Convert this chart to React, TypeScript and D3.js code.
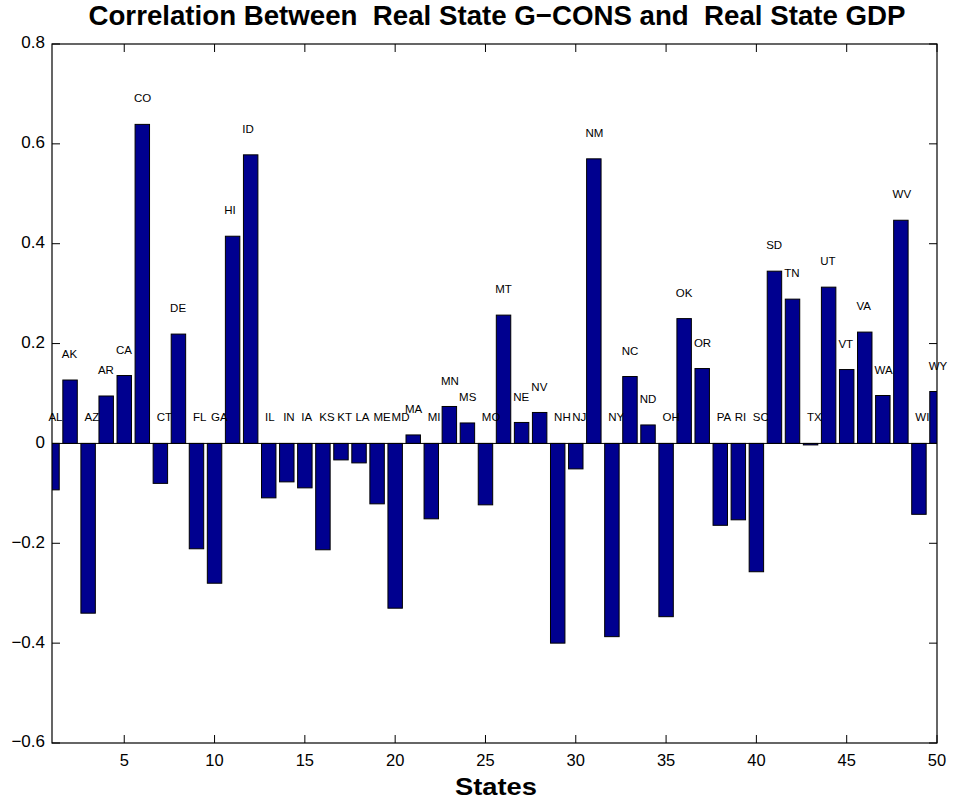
import React from "react";
import * as d3 from "d3";

const states = ["AL","AK","AZ","AR","CA","CO","CT","DE","FL","GA","HI","ID","IL","IN","IA","KS","KT","LA","ME","MD","MA","MI","MN","MS","MO","MT","NE","NV","NH","NJ","NM","NY","NC","ND","OH","OK","OR","PA","RI","SC","SD","TN","TX","UT","VT","VA","WA","WV","WI","WY"];
const correlations = [-0.093,0.127,-0.340,0.095,0.136,0.639,-0.080,0.219,-0.211,-0.280,0.415,0.578,-0.109,-0.077,-0.089,-0.213,-0.033,-0.039,-0.121,-0.330,0.017,-0.151,0.074,0.041,-0.123,0.257,0.042,0.062,-0.400,-0.051,0.570,-0.387,0.134,0.037,-0.347,0.250,0.150,-0.164,-0.153,-0.257,0.345,0.289,-0.003,0.313,0.148,0.223,0.096,0.447,-0.142,0.104];
const xTicks = [5,10,15,20,25,30,35,40,45,50];
const yTicks = [-0.6,-0.4,-0.2,0,0.2,0.4,0.6,0.8];
const title = "Correlation Between  Real State G\u2212CONS and  Real State GDP";
const xLabel = "States";

const W = 955, H = 800;
const left = 52, right = 937, top = 44, bottom = 743;

export default function App() {
  const x = d3.scaleLinear().domain([1, 50]).range([left, right]);
  const y = d3.scaleLinear().domain([-0.6, 0.8]).range([bottom, top]);
  const bw = (x(2) - x(1)) * 0.8;
  const fmt = (v: number) => (Math.abs(v) < 1e-9 ? "0" : d3.format(".1f")(v).replace("-", "\u2212"));
  const font = "'Liberation Sans', Arial, Helvetica, sans-serif";
  return (
    <svg width={W} height={H} style={{ position: "absolute", left: 0, top: 0 }}>
      <rect x={0} y={0} width={W} height={H} fill="#fff" />
      <defs>
        <clipPath id="plot">
          <rect x={left} y={top} width={right - left} height={bottom - top} />
        </clipPath>
      </defs>
      <g clipPath="url(#plot)">
        {correlations.map((v, i) => {
          const xi = x(i + 1);
          const y0 = y(0), y1 = y(v);
          return (
            <rect key={i} x={xi - bw / 2} y={Math.min(y0, y1)} width={bw} height={Math.max(Math.abs(y1 - y0), 0.8)}
              fill="#00008f" stroke="#000" strokeWidth={1} />
          );
        })}
        <line x1={left} x2={right} y1={y(0)} y2={y(0)} stroke="#000" strokeWidth={1} />
      </g>
      {correlations.map((v, i) => {
        const xi = x(i + 1 + (v >= 0 ? -0.46 : -0.2));
        return (
          <text key={"l" + i} x={xi} y={y(Math.max(v, 0) + 0.05)} dominantBaseline="middle"
            fontFamily={font} fontSize={11.5} fill="#000">{states[i]}</text>
        );
      })}
      <rect x={left} y={top} width={right - left} height={bottom - top} fill="none" stroke="#000" strokeWidth={1.2} />
      {xTicks.map((t) => (
        <g key={"x" + t}>
          <line x1={x(t)} x2={x(t)} y1={bottom} y2={bottom - 8} stroke="#000" />
          <line x1={x(t)} x2={x(t)} y1={top} y2={top + 8} stroke="#000" />
          <text x={x(t)} y={762} textAnchor="middle" dominantBaseline="middle" fontFamily={font} fontSize={16.5}>{t}</text>
        </g>
      ))}
      {yTicks.map((t) => (
        <g key={"y" + t}>
          <line x1={left} x2={left + 8} y1={y(t)} y2={y(t)} stroke="#000" />
          <line x1={right} x2={right - 8} y1={y(t)} y2={y(t)} stroke="#000" />
          <text x={45} y={y(t)} textAnchor="end" dominantBaseline="middle" fontFamily={font} fontSize={17}>{fmt(t)}</text>
        </g>
      ))}
      <text x={497} y={18} textAnchor="middle" dominantBaseline="middle" fontFamily={font} fontWeight="bold" fontSize={28}
        textLength={817} lengthAdjust="spacingAndGlyphs" style={{ whiteSpace: "pre" }} xmlSpace="preserve">{title}</text>
      <text x={496} y={795} textAnchor="middle" fontFamily={font} fontWeight="bold" fontSize={24}
        textLength={82} lengthAdjust="spacingAndGlyphs">{xLabel}</text>
    </svg>
  );
}
